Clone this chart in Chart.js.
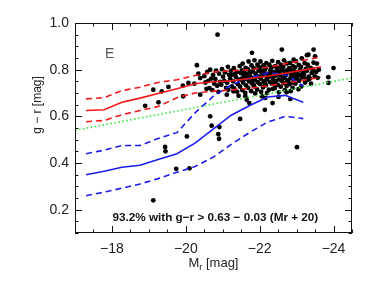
<!DOCTYPE html>
<html>
<head>
<meta charset="utf-8">
<script src="https://cdn.jsdelivr.net/npm/chart.js@4.4.0/dist/chart.umd.min.js"></script>
<style>
  html, body { margin: 0; padding: 0; background: #fff; }
</style>
</head>
<body>
<canvas id="chart" width="374" height="281"></canvas>
<script>
// --- data ---
const xTicks = [-24, -22, -20, -18];
const yTicks = [0.2, 0.4, 0.6, 0.8, 1.0];

// red: running median and spread of the red population
const redMag = [-17.30, -17.79, -18.27, -18.76, -19.25, -19.76, -20.25, -20.74, -21.23, -21.72, -22.21, -22.69, -23.18, -23.66];
const redMid = [0.625, 0.628, 0.660, 0.678, 0.698, 0.718, 0.740, 0.748, 0.752, 0.762, 0.772, 0.785, 0.798, 0.812];
const redHi  = [0.675, 0.680, 0.710, 0.725, 0.745, 0.757, 0.775, 0.790, 0.795, 0.800, 0.810, 0.825, 0.840, 0.855];
const redLo  = [0.577, 0.582, 0.607, 0.625, 0.642, 0.680, 0.700, 0.708, 0.713, 0.720, 0.730, 0.742, 0.755, 0.767];

// blue: running median and spread of the blue population
const blueMag = [-17.30, -17.79, -18.27, -18.76, -19.25, -19.76, -20.25, -20.74, -21.23, -21.72, -22.21, -22.69, -23.18];
const blueMid = [0.350, 0.365, 0.382, 0.390, 0.415, 0.440, 0.485, 0.545, 0.605, 0.645, 0.683, 0.690, 0.660];
const blueHi  = [0.440, 0.455, 0.475, 0.475, 0.505, 0.530, 0.615, 0.685, 0.735, 0.765, 0.786, 0.780, 0.730];
const blueLo  = [0.260, 0.275, 0.292, 0.310, 0.333, 0.360, 0.385, 0.425, 0.480, 0.530, 0.575, 0.600, 0.590];

// green dotted dividing line, end points
const cutMag = [-17.0, -24.5];
const cutColor = [0.540, 0.765];

// galaxies [Mr, g-r]
const galaxies = [
  [-20.86, 0.950], [-18.90, 0.645], [-19.12, 0.714], [-19.26, 0.660], [-19.35, 0.707],
  [-19.53, 0.726], [-19.92, 0.731], [-19.93, 0.686], [-20.07, 0.743], [-20.23, 0.740],
  [-20.03, 0.514], [-20.30, 0.819], [-20.34, 0.783], [-20.39, 0.693], [-20.39, 0.764],
  [-20.66, 0.600], [-20.70, 0.560], [-20.91, 0.554], [-20.88, 0.524], [-20.90, 0.504],
  [-19.44, 0.469], [-19.45, 0.450], [-19.74, 0.375], [-20.10, 0.377], [-19.12, 0.240],
  [-21.47, 0.589], [-23.01, 0.468], [-22.14, 0.628], [-23.86, 0.768], [-23.86, 0.743],
  [-24.00, 0.807], [-22.35, 0.657], [-22.83, 0.674], [-22.60, 0.886], [-21.79, 0.872],
  [-23.46, 0.886], [-23.32, 0.864], [-22.92, 0.843], [-23.28, 0.862], [-23.50, 0.857],
  [-21.11, 0.693], [-21.29, 0.707], [-21.43, 0.688], [-21.61, 0.686], [-21.65, 0.671],
  [-21.72, 0.657], [-22.06, 0.686], [-22.15, 0.679], [-22.51, 0.683], [-22.73, 0.703],
  [-20.50, 0.772], [-20.53, 0.745],
  [-20.58, 0.790], [-20.61, 0.752], [-20.56, 0.718],
  [-20.66, 0.800], [-20.69, 0.762], [-20.64, 0.721],
  [-20.74, 0.778], [-20.77, 0.740], [-20.72, 0.712],
  [-20.82, 0.796], [-20.80, 0.760], [-20.85, 0.731],
  [-20.90, 0.783], [-20.93, 0.748], [-20.88, 0.705],
  [-20.98, 0.802], [-21.01, 0.770], [-20.96, 0.735],
  [-21.06, 0.788], [-21.04, 0.752], [-21.09, 0.722],
  [-21.14, 0.812], [-21.17, 0.778], [-21.12, 0.744], [-21.15, 0.714],
  [-21.22, 0.795], [-21.20, 0.762], [-21.25, 0.728],
  [-21.30, 0.806], [-21.33, 0.781], [-21.28, 0.750], [-21.31, 0.720],
  [-21.38, 0.790], [-21.36, 0.768], [-21.41, 0.738], [-21.39, 0.705],
  [-21.46, 0.815], [-21.49, 0.785], [-21.44, 0.756], [-21.47, 0.727],
  [-21.54, 0.826], [-21.52, 0.797], [-21.57, 0.772], [-21.55, 0.745], [-21.53, 0.712],
  [-21.62, 0.808], [-21.65, 0.782], [-21.60, 0.760], [-21.63, 0.733], [-21.61, 0.700],
  [-21.70, 0.835], [-21.68, 0.802], [-21.73, 0.775], [-21.71, 0.750], [-21.69, 0.722],
  [-21.78, 0.818], [-21.81, 0.792], [-21.76, 0.768], [-21.79, 0.741], [-21.77, 0.708],
  [-21.86, 0.840], [-21.84, 0.806], [-21.89, 0.783], [-21.87, 0.757], [-21.85, 0.729], [-21.88, 0.698],
  [-21.94, 0.822], [-21.97, 0.796], [-21.92, 0.772], [-21.95, 0.746], [-21.93, 0.715],
  [-22.02, 0.835], [-22.00, 0.810], [-22.05, 0.787], [-22.03, 0.762], [-22.01, 0.738], [-22.04, 0.705],
  [-22.10, 0.818], [-22.13, 0.798], [-22.08, 0.775], [-22.11, 0.750], [-22.09, 0.724],
  [-22.18, 0.828], [-22.16, 0.805], [-22.21, 0.782], [-22.19, 0.760], [-22.17, 0.733], [-22.20, 0.700],
  [-22.26, 0.821], [-22.29, 0.796], [-22.24, 0.771], [-22.27, 0.748], [-22.25, 0.714],
  [-22.34, 0.838], [-22.32, 0.810], [-22.37, 0.788], [-22.35, 0.764], [-22.33, 0.740], [-22.36, 0.718],
  [-22.42, 0.815], [-22.45, 0.793], [-22.40, 0.772], [-22.43, 0.750], [-22.41, 0.721],
  [-22.50, 0.832], [-22.48, 0.806], [-22.53, 0.782], [-22.51, 0.758], [-22.49, 0.735], [-22.52, 0.703],
  [-22.58, 0.820], [-22.61, 0.797], [-22.56, 0.776], [-22.59, 0.752], [-22.57, 0.727],
  [-22.66, 0.840], [-22.64, 0.812], [-22.69, 0.788], [-22.67, 0.765], [-22.65, 0.742], [-22.68, 0.712],
  [-22.74, 0.826], [-22.77, 0.800], [-22.72, 0.779], [-22.75, 0.754], [-22.73, 0.730],
  [-22.82, 0.829], [-22.80, 0.806], [-22.85, 0.785], [-22.83, 0.763], [-22.81, 0.738], [-22.84, 0.708],
  [-22.90, 0.815], [-22.93, 0.793], [-22.88, 0.770], [-22.91, 0.745], [-22.89, 0.722],
  [-22.98, 0.836], [-22.96, 0.810], [-23.01, 0.788], [-22.99, 0.765], [-22.97, 0.740],
  [-23.06, 0.820], [-23.09, 0.798], [-23.04, 0.776], [-23.07, 0.752], [-23.05, 0.716],
  [-23.14, 0.848], [-23.12, 0.812], [-23.17, 0.790], [-23.15, 0.766], [-23.13, 0.728],
  [-23.22, 0.828], [-23.25, 0.803], [-23.20, 0.780], [-23.23, 0.745],
  [-23.30, 0.821], [-23.28, 0.795], [-23.33, 0.770], [-23.31, 0.757],
  [-23.38, 0.808], [-23.41, 0.786], [-23.36, 0.762], [-23.39, 0.740],
  [-23.46, 0.830], [-23.44, 0.800], [-23.49, 0.771],
  [-23.55, 0.826], [-23.53, 0.790], [-23.57, 0.765], [-23.60, 0.800],
  [-21.58, 0.788], [-21.66, 0.764], [-21.74, 0.790], [-21.82, 0.752], [-21.90, 0.778],
  [-21.99, 0.769], [-22.06, 0.795], [-22.14, 0.742], [-22.22, 0.768], [-22.30, 0.782],
  [-22.38, 0.752], [-22.46, 0.778], [-22.54, 0.792], [-22.62, 0.762], [-22.70, 0.776],
  [-22.78, 0.745], [-22.86, 0.772], [-22.94, 0.781], [-23.02, 0.758], [-23.10, 0.776],
  [-23.18, 0.772], [-23.26, 0.760], [-21.84, 0.734], [-22.12, 0.786], [-22.44, 0.737],
  [-22.71, 0.795], [-22.95, 0.752], [-21.50, 0.760], [-21.25, 0.778], [-22.31, 0.806],
  [-22.87, 0.796], [-21.97, 0.812], [-22.57, 0.812]
];

const note = 'E';
const caption = '93.2% with g\u2212r > 0.63 \u2212 0.03 (Mr + 20)';

// --- styles ---
const RED = '#f01818';
const BLUE = '#1c1cf0';
const GREEN = '#3fe83f';
const FONT = "'Liberation Sans', Arial, sans-serif";

function pairs(xs, ys) {
  return xs.map((x, i) => ({ x: x, y: ys[i] }));
}

function lineSet(xs, ys, color, dashed) {
  return {
    data: pairs(xs, ys),
    showLine: true,
    borderColor: color,
    borderWidth: 1.6,
    borderDash: dashed ? [6, 4] : [],
    pointRadius: 0,
    tension: 0
  };
}

// 枠・内向きの目盛り・注記・軸タイトル
const idlFrame = {
  id: 'idlFrame',
  afterDraw(chart) {
    const c = chart.ctx;
    const a = chart.chartArea;
    const sx = chart.scales.x;
    const sy = chart.scales.y;
    c.save();
    c.strokeStyle = '#111';
    c.lineWidth = 1;
    c.strokeRect(Math.round(a.left) + 0.5, Math.round(a.top) + 0.5,
                 Math.round(a.right - a.left) - 1, Math.round(a.bottom - a.top) - 1);

    c.beginPath();
    for (let k = 0; k <= 15; k++) {
      const v = -17 - k * 0.5;
      const px = Math.round(sx.getPixelForValue(v)) + 0.5;
      const len = (Math.abs(v) % 2 === 0) ? 7 : 3.5;
      c.moveTo(px, a.bottom); c.lineTo(px, a.bottom - len);
      c.moveTo(px, a.top); c.lineTo(px, a.top + len);
    }
    for (let k = 0; k <= 18; k++) {
      const v = 0.1 + k * 0.05;
      const py = Math.round(sy.getPixelForValue(v)) + 0.5;
      const major = Math.abs(Math.round(v * 100) % 20) === 0;
      const len = major ? 7 : 3.5;
      c.moveTo(a.left, py); c.lineTo(a.left + len, py);
      c.moveTo(a.right, py); c.lineTo(a.right - len, py);
    }
    c.stroke();

    // "E"
    c.fillStyle = '#555';
    c.font = '14px ' + FONT;
    c.textAlign = 'left';
    c.textBaseline = 'middle';
    c.fillText(note, sx.getPixelForValue(-17.81), sy.getPixelForValue(0.868));

    // caption, fitted to its width in the figure
    c.fillStyle = '#111';
    let size = 11;
    c.font = 'bold ' + size + 'px ' + FONT;
    const w = c.measureText(caption).width;
    size = size * 206 / w;
    c.font = 'bold ' + size.toFixed(2) + 'px ' + FONT;
    c.textAlign = 'center';
    c.textBaseline = 'alphabetic';
    c.fillText(caption, sx.getPixelForValue(-20.80), sy.getPixelForValue(0.150));

    // x title: M_r [mag]
    c.fillStyle = '#222';
    c.font = '13px ' + FONT;
    const wM = c.measureText('M').width;
    const wRest = c.measureText(' [mag]').width;
    c.font = '9px ' + FONT;
    const wr = c.measureText('r').width;
    const cx = (a.left + a.right) / 2;
    let x0 = cx - (wM + wr + wRest) / 2;
    const base = 267;
    c.textAlign = 'left';
    c.font = '13px ' + FONT;
    c.fillText('M', x0, base);
    c.font = '9px ' + FONT;
    c.fillText('r', x0 + wM, base + 3);
    c.font = '13px ' + FONT;
    c.fillText(' [mag]', x0 + wM + wr, base);

    // y title
    c.translate(38, 105);
    c.rotate(-Math.PI / 2);
    c.textAlign = 'center';
    c.textBaseline = 'middle';
    c.font = '12px ' + FONT;
    c.fillText('g \u2212 r [mag]', 0, 0);
    c.restore();
  }
};

const ctx = document.getElementById('chart').getContext('2d');
new Chart(ctx, {
  type: 'scatter',
  data: {
    datasets: [
      lineSet(redMag, redMid, RED, false),
      lineSet(redMag, redHi, RED, true),
      lineSet(redMag, redLo, RED, true),
      lineSet(blueMag, blueMid, BLUE, false),
      lineSet(blueMag, blueHi, BLUE, true),
      lineSet(blueMag, blueLo, BLUE, true),
      {
        data: pairs(cutMag, cutColor),
        showLine: true,
        borderColor: GREEN,
        borderWidth: 1.6,
        borderDash: [1.6, 2.4],
        pointRadius: 0
      },
      {
        data: galaxies.map(g => ({ x: g[0], y: g[1] })),
        showLine: false,
        pointRadius: 2.4,
        pointBackgroundColor: '#000',
        pointBorderWidth: 0
      }
    ]
  },
  options: {
    responsive: false,
    animation: false,
    devicePixelRatio: 1,
    layout: { padding: { top: 23, right: 22, left: 0, bottom: 0 } },
    plugins: { legend: { display: false }, tooltip: { enabled: false } },
    scales: {
      x: {
        type: 'linear',
        min: -24.5,
        max: -17,
        reverse: true,
        grid: { display: false, drawTicks: false },
        border: { display: false },
        ticks: {
          padding: 8,
          color: '#222',
          font: { family: FONT, size: 14 },
          callback: v => '\u2212' + Math.abs(v)
        },
        afterBuildTicks: s => { s.ticks = xTicks.map(v => ({ value: v })); },
        afterFit: s => { s.height = 48; }
      },
      y: {
        type: 'linear',
        min: 0.1,
        max: 1.0,
        grid: { display: false, drawTicks: false },
        border: { display: false },
        ticks: {
          padding: 6,
          color: '#222',
          font: { family: FONT, size: 14 },
          callback: v => v.toFixed(1)
        },
        afterBuildTicks: s => { s.ticks = yTicks.map(v => ({ value: v })); },
        afterFit: s => { s.width = 75; }
      }
    }
  },
  plugins: [idlFrame]
});
</script>
</body>
</html>
